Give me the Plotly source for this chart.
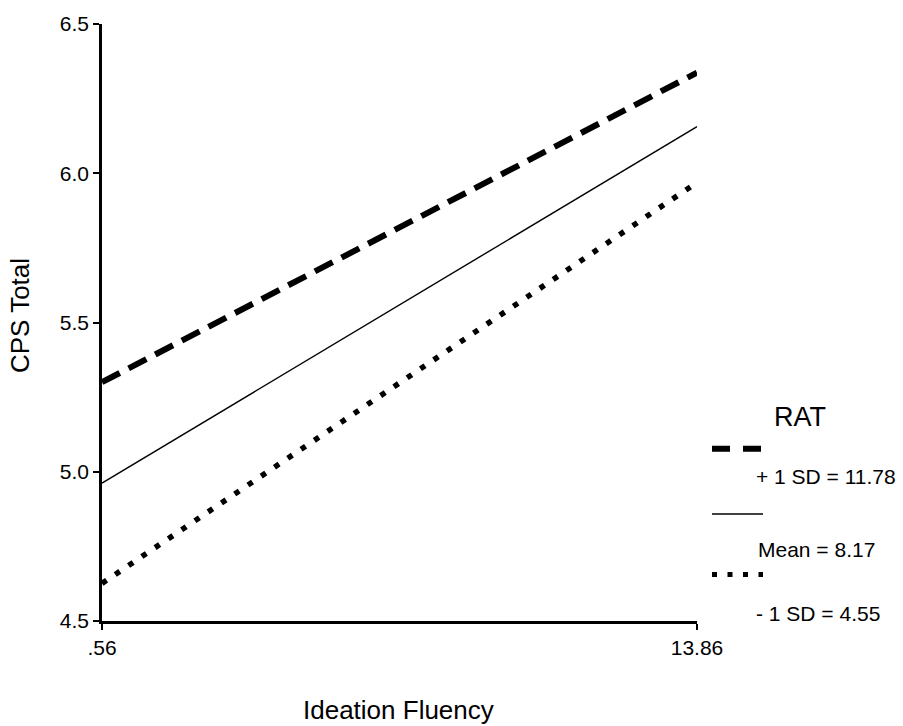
import plotly.graph_objects as go

# Data
x_vals = [0.56, 13.86]
x_ticktext = [".56", "13.86"]
y_ticks = [4.5, 5.0, 5.5, 6.0, 6.5]
y_ticktext = ["4.5", "5.0", "5.5", "6.0", "6.5"]
plus_sd = [5.30, 6.337]
mean_vals = [4.962, 6.156]
minus_sd = [4.626, 5.969]
legend_title = "RAT"
legend_labels = ["+ 1 SD = 11.78", "Mean = 8.17", "- 1 SD = 4.55"]

FONT = "Arial, Liberation Sans, sans-serif"
W, H = 903, 726
L, R, T, B = 102, 697, 18, 621


def px(xp):
    return (xp - L) / (R - L)


def py(yp):
    return (B - yp) / (B - T)


fig = go.Figure()
fig.add_trace(go.Scatter(x=x_vals, y=plus_sd, mode="lines", name=legend_labels[0],
                         line=dict(color="black", width=6, dash="20px,10px")))
fig.add_trace(go.Scatter(x=x_vals, y=mean_vals, mode="lines", name=legend_labels[1],
                         line=dict(color="black", width=1.4)))
fig.add_trace(go.Scatter(x=x_vals, y=minus_sd, mode="lines", name=legend_labels[2],
                         line=dict(color="black", width=5.5, dash="5.5px,10.5px")))

shapes = [
    dict(type="line", xref="paper", yref="paper", x0=px(712), x1=px(763), y0=py(447), y1=py(447),
         line=dict(color="black", width=6, dash="18px,13px")),
    dict(type="line", xref="paper", yref="paper", x0=px(712), x1=px(763), y0=py(513), y1=py(513),
         line=dict(color="black", width=1.4)),
    dict(type="line", xref="paper", yref="paper", x0=px(712), x1=px(763), y0=py(574), y1=py(574),
         line=dict(color="black", width=5, dash="5px,10.5px")),
]

annotations = [
    dict(text=legend_title, xref="paper", yref="paper", x=px(800), y=py(415), showarrow=False,
         xanchor="center", yanchor="middle", font=dict(family=FONT, size=27, color="black")),
    dict(text=legend_labels[0], xref="paper", yref="paper", x=px(754), y=py(475), showarrow=False,
         xanchor="left", yanchor="middle", font=dict(family=FONT, size=21, color="black")),
    dict(text=legend_labels[1], xref="paper", yref="paper", x=px(756), y=py(549), showarrow=False,
         xanchor="left", yanchor="middle", font=dict(family=FONT, size=21, color="black")),
    dict(text=legend_labels[2], xref="paper", yref="paper", x=px(754), y=py(613), showarrow=False,
         xanchor="left", yanchor="middle", font=dict(family=FONT, size=21, color="black")),
    dict(text="CPS Total", xref="paper", yref="paper", x=px(20), y=py(313), showarrow=False,
         textangle=-90, xanchor="center", yanchor="middle",
         font=dict(family=FONT, size=26, color="black")),
    dict(text="Ideation Fluency", xref="paper", yref="paper", x=px(398), y=py(711), showarrow=False,
         xanchor="center", yanchor="middle", font=dict(family=FONT, size=26, color="black")),
]

fig.update_layout(
    width=W, height=H,
    margin=dict(l=L, r=W - R, t=T, b=H - B),
    plot_bgcolor="white", paper_bgcolor="white",
    showlegend=False,
    shapes=shapes,
    annotations=annotations,
    font=dict(family=FONT, color="black"),
)
fig.update_xaxes(range=[x_vals[0], x_vals[1]], tickvals=x_vals, ticktext=x_ticktext,
                 showgrid=False, zeroline=False, showline=True, linecolor="black", linewidth=2.5,
                 ticks="outside", ticklen=6, tickwidth=2, tickcolor="black",
                 tickfont=dict(family=FONT, size=21, color="black"))
fig.update_yaxes(range=[y_ticks[0], y_ticks[-1]], tickvals=y_ticks, ticktext=y_ticktext,
                 showgrid=False, zeroline=False, showline=True, linecolor="black", linewidth=2.5,
                 ticks="outside", ticklen=6, tickwidth=2, tickcolor="black",
                 tickfont=dict(family=FONT, size=21, color="black"))

fig.write_html("out.html", config={"displayModeBar": False},
               post_script="document.body.style.margin='0';document.body.style.overflow='hidden';")
